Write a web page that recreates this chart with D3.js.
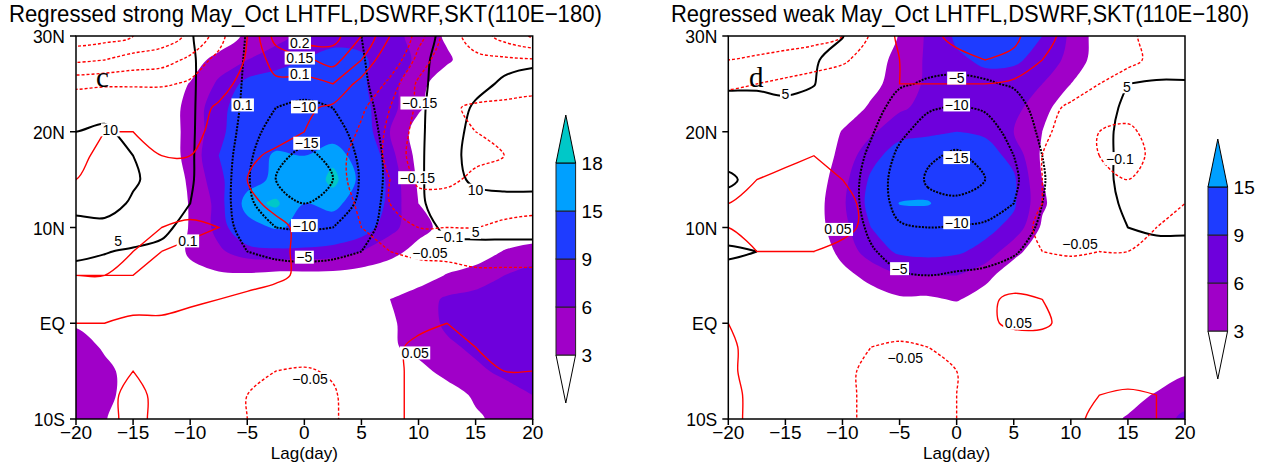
<!DOCTYPE html>
<html>
<head>
<meta charset="utf-8">
<script src="https://cdn.jsdelivr.net/npm/d3@7"></script>
<style>
  body { margin: 0; background: #fff; }
</style>
</head>
<body>
<div id="chart"></div>
<script>
// grid axes of the regressed fields
const lags = [-20, -17.5, -15, -12.5, -10, -7.5, -5, -2.5, 0, 2.5, 5, 7.5, 10, 12.5, 15, 17.5, 20];
const lats = [30, 27.5, 25, 22.5, 20, 17.5, 15, 12.5, 10, 7.5, 5, 2.5, 0, -2.5, -5, -7.5, -10];

const lagTicks = [-20, -15, -10, -5, 0, 5, 10, 15, 20];
const latTicks = [30, 20, 10, 0, -10];
const latTickLabels = ["30N", "20N", "10N", "EQ", "10S"];

const strongLevels = [3, 6, 9, 15, 18];
const weakLevels = [3, 6, 9, 15];
const shadeColors = ["#a000c8", "#6e00dc", "#1e3cff", "#00a0ff", "#00c8c8"];
const blackLevels = [-20, -15, -10, -5, 5, 10, 15];
const redLevels = [-0.25, -0.2, -0.15, -0.1, -0.05, 0.05, 0.1, 0.15, 0.2, 0.25];

// LHTFL (shaded), rows from 30N down to 10S, columns lag -20..20
const strongShade = [
  [0,0,0,0,0,0,3.9,5,7,8,8,7,5,2.5,0,0,0],
  [0,0,0,0,1,4.5,6,7.5,9,10,9.5,7.5,5.5,3.5,1,0,0],
  [0,0,0,0.5,3.2,6.5,10,11,11,11,9.5,7,4,1,0,0,0],
  [0,0,0,1,4,8,11,12,13,12,10,7,3.5,0.5,0,0,0],
  [0,0,0,1,4,8,12,13,14,13,11,6,1.5,0,0,0,0],
  [0,0,0,1,4,9,13,15.5,15,17,13,7,2,0,0,0,0],
  [0,0,0,0.5,3.5,8,13,16,15,19,14,8,2.5,0,0,0,0],
  [0,0,0,0.5,3.2,7,17,18.5,15,16,13,8,3,0.5,0,0,0],
  [0,0,0,0.5,3.2,7,13,15.5,14,13,11,7,4,2,0.5,0,0],
  [0,0,0,0.5,3.5,5.5,7.5,8,8,7.5,6,4,2,0.5,1,3.2,4.5],
  [0,0,0,0,2,2.5,2.5,2,2,2,1.5,1,1.5,3.2,4.5,6,7],
  [0,0,0,0,0,0.5,0.5,0.5,0.5,0.5,1,3,4.5,6.5,7,7.5,7.5],
  [2.5,1,0,0,0,0,0,0,0,0,0,2.5,4.5,6.5,7.5,7.5,7.5],
  [5,2.5,0.5,0,0,0,0,0,0,0,0,2.5,4,5.5,6.5,7,8],
  [5.5,4,1.5,0,0,0,0,0,0,0,0,0,2,4,5.5,6.5,7],
  [5,4,1.5,0,0,0,0,0,0,0,0,0,0,1.5,3.5,5,6],
  [4.5,3.2,1,0,0,0,0,0,0,0,0,0,0,0,2.5,4,5]
];

const weakShade = [
  [0,0,0,0,0,0,3.2,6.5,9.5,11,11,9,5.5,1.5,0,0,0],
  [0,0,0,0,0,1.5,4,6.5,8.5,9.5,9.5,8,5,1.5,0,0,0],
  [0,0,0,0,0,2,4.5,6.5,7.5,8,7.5,6,3,0.5,0,0,0],
  [0,0,0,0,1,3.5,5.5,7,7.5,7.5,7,4,1,0,0,0,0],
  [0,0,0,0,3.2,5.5,8,8.5,9,8.5,6,3,0.5,0,0,0,0],
  [0,0,0,0.5,4,8,10.5,11,11,10.5,8,2.5,0.5,0,0,0,0],
  [0,0,0,1,5,9.5,12,13,12,11,9.5,3,0.5,0,0,0,0],
  [0,0,0,1.5,5.5,10,15.2,15.3,12.5,11,9.5,3.5,0.5,0,0,0,0],
  [0,0,0,1.5,5,9,11,11.5,11,10,8,2.5,0,0,0,0,0],
  [0,0,0,0.5,4,7.5,9.5,10,9.5,8,4,1,0,0,0,0,0],
  [0,0,0,0,2,4,6,6,6,4,1,0,0,0,0,0,0],
  [0,0,0,0,0,1.5,2.5,2.5,3.3,1.5,0,0,0,0,0,0,0],
  [0,0,0,0,0,0,0,0,0,0,0,0,0,0,0,0,0],
  [0,0,0,0,0,0,0,0,0,0,0,0,0,0,0,0,0],
  [0,0,0,0,0,0,0,0,0,0,0,0,0,0,0,0,2.5],
  [0,0,0,0,0,0,0,0,0,0,0,0,0,0,1,3.5,5],
  [0,0,0,0,0,0,0,0,0,0,0,0,0,1,3.5,5,6.5]
];

// DSWRF (black contours)
const strongBlack = [
  [7,7,7,6.5,5.5,1,-5.5,-7,-7,-6.5,-5,-1,3.5,6,7,8,9],
  [7.5,7.5,7.5,7,6,1,-6,-8,-8,-7.5,-5.5,-1.5,4,6.5,8,9,9.5],
  [8,8,8,7.5,6,1,-6.5,-9,-9,-8.5,-6,-2,4,7,9,10.5,11],
  [9,9,8.5,8,6,0.5,-7,-10,-10.5,-10,-7,-2.5,4,8,10.5,11.5,12],
  [10,10.5,9,8,6,0,-8,-12,-13,-12,-8,-3,4,8.5,11,12,12],
  [11,11.5,10,8.5,6,-1,-9,-14,-16,-14,-9,-3.5,4,9,11,12,12],
  [12,12.5,10.5,8.5,6,-1.5,-9.5,-15,-18,-15,-9.5,-3.5,4,9,10.5,11,11],
  [11,11.5,9.5,7.5,5,-2,-9,-13,-15,-13,-9,-3,4,8,9,9,9],
  [9,9,7.5,6,3.5,-2,-7.5,-10,-10.5,-10,-7.5,-2.5,3,6,6,6,6],
  [6,5.2,4.5,4,2,-1.5,-5,-6,-6.5,-6,-5,-1.5,2,3.5,4,4,4],
  [3.5,3.5,3,2.5,1.5,-0.5,-2,-3,-3,-3,-2,-0.5,1,2,2,2,2],
  [2,2,2,1.5,1,0,-1,-1,-1,-1,-1,0,0.5,1,1,1,1],
  [0,0,0,0,0,0,0,0,0,0,0,0,0,0,0,0,0],
  [0,0,0,0,0,0,0,0,0,0,0,0,0,0,0,0,0],
  [0,0,0,0,0,0,0,0,0,0,0,0,0,0,0,0,0],
  [0,0,0,0,0,0,0,0,0,0,0,0,0,0,0,0,0],
  [0,0,0,0,0,0,0,0,0,0,0,0,0,0,0,0,0]
];

const weakBlack = [
  [6,6,5.5,6,5.2,0,-2,-3,-3,-3,-2,0,1,2,3,3,3],
  [6,6,5.5,5.5,3,-0.5,-3,-3.5,-3.5,-3,-2.5,-1,0.5,2,3.5,3.5,3.5],
  [5.4,5.4,5.5,5.2,1,-2,-4.5,-5.5,-6,-5.5,-4.5,-2,0,2.5,5,5.3,5.3],
  [4,4,4.5,3,0,-3,-7,-9.5,-10.5,-9.5,-7,-3,0,3,6,7,7],
  [3,2.5,2,1,-1,-4.5,-9,-12,-13.5,-12,-8.5,-4,0,3.5,6.5,7.5,7.5],
  [4,3,2,0.5,-1.5,-6,-11,-14.5,-15.5,-14,-10,-5,-0.5,3.5,6.5,7.5,7.5],
  [5.5,4,2,0,-2,-7,-12,-15.5,-16,-15,-11,-5.5,-1,3.5,6.5,7.5,7.5],
  [4,3,1.5,0,-2,-7,-11.5,-14,-14.5,-13,-10,-5,-1,3,6,7,7],
  [3.5,4,3,1,-1.5,-6,-9.5,-10,-9.5,-9,-8,-4,-0.5,2.5,5,5.5,5.5],
  [5.5,5,3.5,1,-1,-4.5,-7,-8,-7.5,-7,-5.5,-3,0,2,3.5,4,4],
  [4,3.5,2.5,1,-0.5,-2.5,-4.5,-5,-4.5,-4,-3,-1.5,0,1,2,2,2],
  [2,2,1.5,0.5,0,-1,-2,-2,-2,-1.5,-1,-0.5,0,0.5,1,1,1],
  [0,0,0,0,0,0,0,0,0,0,0,0,0,0,0,0,0],
  [0,0,0,0,0,0,0,0,0,0,0,0,0,0,0,0,0],
  [0,0,0,0,0,0,0,0,0,0,0,0,0,0,0,0,0],
  [0,0,0,0,0,0,0,0,0,0,0,0,0,0,0,0,0],
  [0,0,0,0,0,0,0,0,0,0,0,0,0,0,0,0,0]
];

// SKT (red contours)
const strongRed = [
  [-.23,-.22,-.2,-.18,-.14,-.08,.05,.17,.23,.22,.15,.05,-.08,-.17,-.13,-.08,-.045],
  [-.16,-.15,-.13,-.12,-.09,-.03,.06,.12,.14,.17,.1,0,-.12,-.19,-.16,-.16,-.155],
  [-.065,-.06,-.06,-.06,-.04,.02,.08,.09,.08,.1,.03,-.07,-.16,-.2,-.19,-.18,-.17],
  [0,.02,.02,.02,.02,.06,.1,.08,.06,.04,-.04,-.1,-.16,-.16,-.14,-.135,-.13],
  [.03,.05,.05,.04,.04,.06,.08,.07,.05,0,-.06,-.11,-.17,-.17,-.15,-.14,-.13],
  [.04,.06,.06,.05,.05,.06,.06,.04,.02,-.03,-.07,-.11,-.18,-.18,-.16,-.15,-.14],
  [.05,.06,.06,.06,.06,.06,.05,.03,.01,-.04,-.06,-.1,-.16,-.16,-.14,-.13,-.12],
  [.06,.07,.07,.07,.08,.07,.06,.04,.02,-.02,-.06,-.1,-.13,-.13,-.12,-.11,-.11],
  [.07,.08,.09,.1,.11,.1,.08,.06,.04,0,-.05,-.08,-.1,-.1,-.1,-.095,-.09],
  [.08,.09,.1,.1,.09,.08,.07,.06,.04,.02,-.02,-.05,-.06,-.065,-.07,-.07,-.07],
  [.1,.1,.1,.095,.08,.07,.07,.06,.04,.03,0,-.02,-.03,-.03,-.04,-.04,-.04],
  [.07,.07,.07,.07,.06,.05,.04,.03,.02,.02,.01,0,.01,.02,.02,.02,.02],
  [.05,.05,.04,.04,.03,.02,.02,.01,.01,.01,.01,.02,.04,.05,.04,.03,.03],
  [.03,.04,.04,.03,.02,.01,0,0,0,.01,.02,.04,.06,.06,.05,.04,.04],
  [.02,.04,.05,.03,.01,0,-.03,-.05,-.06,-.04,.01,.04,.06,.06,.05,.05,.05],
  [.02,.04,.06,.04,.01,-.01,-.05,-.07,-.07,-.06,0,.04,.06,.06,.06,.06,.06],
  [.02,.04,.06,.04,.01,-.01,-.05,-.07,-.07,-.06,-.01,.04,.06,.06,.06,.06,.07]
];

const weakRed = [
  [-.14,-.14,-.13,-.12,-.1,-.045,.07,.09,.11,.12,.11,.07,.03,0,-.04,-.07,-.1],
  [-.1,-.09,-.08,-.07,-.06,-.02,.05,.08,.09,.1,.09,.05,.02,-.01,-.04,-.06,-.07],
  [-.06,-.05,-.04,-.03,-.01,.02,.05,.05,.05,.05,.04,.02,-.02,-.05,-.07,-.07,-.06],
  [-.02,-.01,.01,.02,.03,.03,.03,.02,.02,.02,0,-.03,-.06,-.08,-.09,-.08,-.05],
  [.01,.02,.03,.04,.04,.03,.02,.02,.01,.01,-.01,-.04,-.07,-.1,-.105,-.09,-.06],
  [.03,.03,.04,.05,.04,.03,.02,.01,.01,0,-.02,-.05,-.08,-.1,-.115,-.09,-.06],
  [.04,.05,.06,.06,.05,.03,.02,.01,0,0,-.02,-.05,-.07,-.09,-.1,-.08,-.06],
  [.05,.06,.07,.07,.06,.04,.02,.01,0,-.01,-.03,-.05,-.06,-.07,-.07,-.06,-.05],
  [.05,.06,.07,.07,.06,.04,.02,.01,0,-.02,-.04,-.055,-.06,-.06,-.06,-.05,-.04],
  [.04,.05,.05,.05,.04,.03,.01,0,-.01,-.02,-.04,-.05,-.055,-.05,-.05,-.04,-.03],
  [.03,.03,.03,.03,.02,.01,0,0,0,.01,.02,-.01,-.03,-.03,-.03,-.03,-.02],
  [.04,.03,.02,.01,.01,0,0,.01,.02,.04,.06,.05,.02,-.01,-.02,-.02,-.01],
  [.05,.03,.01,0,0,-.01,-.02,-.01,.01,.04,.06,.06,.03,0,-.01,-.01,0],
  [.06,.03,.01,-.01,-.03,-.05,-.06,-.05,-.03,0,.02,.02,.01,0,0,0,0],
  [.06,.03,0,-.02,-.04,-.06,-.07,-.07,-.05,-.02,0,0,0,.01,.02,.03,.03],
  [.06,.04,0,-.02,-.04,-.06,-.07,-.07,-.05,-.02,0,.01,.03,.05,.06,.05,.04],
  [.06,.04,0,-.02,-.04,-.06,-.07,-.07,-.05,-.02,0,.02,.04,.06,.06,.05,.04]
];

// contour labels: [lag, lat, text]
const strongLabels = [
  [-0.4, 29.3, "0.2"], [-0.4, 27.7, "0.15"], [-0.4, 26.0, "0.1"], [-5.4, 22.8, "0.1"],
  [0, 22.6, "\u221210"], [0.2, 18.8, "\u221215"], [0, 10.2, "\u221210"], [0, 6.9, "\u22125"],
  [10.1, 23, "\u22120.15"], [9.9, 15.2, "\u22120.15"], [-17, 20.2, "10"], [-16.3, 8.6, "5"],
  [-10.2, 8.6, "0.1"], [15, 13.9, "10"], [15, 9.5, "5"], [12.7, 9, "\u22120.1"],
  [11, 7.3, "\u22120.05"], [9.7, -3.1, "0.05"], [0.5, -5.8, "\u22120.05"]
];
const weakLabels = [
  [0, 25.6, "\u22125"], [0, 22.8, "\u221210"], [0, 17.3, "\u221215"], [0, 10.5, "\u221210"],
  [-5, 5.7, "\u22125"], [-15, 23.9, "5"], [14.9, 24.7, "5"], [14.3, 17.2, "\u22120.1"],
  [-10.4, 9.8, "0.05"], [10.8, 8.3, "\u22120.05"], [5.4, 0, "0.05"], [-4.5, -3.6, "\u22120.05"]
];

const width = 1261;
const height = 463;
const font = '"Liberation Sans", Arial, sans-serif';

const svg = d3.select('#chart')
  .append('svg')
  .attr('width', width)
  .attr('height', height)
  .style('font-family', font);

svg.append('rect')
  .attr('width', width)
  .attr('height', height)
  .attr('fill', '#fff');

function padGrid(grid) {
  const rows = grid.map(r => [r[0]].concat(r, [r[r.length - 1]]));
  return [rows[0]].concat(rows, [rows[rows.length - 1]]);
}

function drawPanel(p) {
  const x = d3.scaleLinear().domain([-20, 20]).range([p.left, p.right]);
  const y = d3.scaleLinear().domain([-10, 30]).range([p.bottom, p.top]);

  const nx = lags.length + 2, ny = lats.length + 2;
  const gx = d3.scaleLinear().domain([1.5, nx - 1.5]).range([x(lags[0]), x(lags[lags.length - 1])]);
  const gy = d3.scaleLinear().domain([1.5, ny - 1.5]).range([y(lats[0]), y(lats[lats.length - 1])]);

  const ring = d3.line()
    .x(d => gx(d[0]))
    .y(d => gy(d[1]))
    .curve(d3.curveCatmullRomClosed.alpha(0.5));
  const pathOf = mp => mp.coordinates
    .map(poly => poly.map(r => ring(r.slice(0, -1))).join(''))
    .join('');
  const contours = (grid, levels) => d3.contours()
    .size([nx, ny])
    .thresholds(levels)(padGrid(grid).flat());

  svg.append('clipPath').attr('id', 'clip' + p.id)
    .append('rect')
    .attr('x', p.left).attr('y', p.top)
    .attr('width', p.right - p.left).attr('height', p.bottom - p.top);

  const plot = svg.append('g').attr('clip-path', `url(#clip${p.id})`);

  // shading
  plot.selectAll('path.shade')
    .data(contours(p.shade, p.levels))
    .enter().append('path')
    .attr('class', 'shade')
    .attr('d', pathOf)
    .attr('fill', (d, i) => shadeColors[i])
    .attr('stroke', 'none');

  // black contours
  plot.selectAll('path.black')
    .data(contours(p.black, blackLevels))
    .enter().append('path')
    .attr('class', 'black')
    .attr('d', pathOf)
    .attr('fill', 'none')
    .attr('stroke', '#000')
    .attr('stroke-width', 2)
    .attr('stroke-dasharray', d => d.value < 0 ? '2,1.3' : null);

  // red contours
  plot.selectAll('path.red')
    .data(contours(p.red, redLevels))
    .enter().append('path')
    .attr('class', 'red')
    .attr('d', pathOf)
    .attr('fill', 'none')
    .attr('stroke', '#ff0000')
    .attr('stroke-width', 1.4)
    .attr('stroke-dasharray', d => d.value < 0 ? '3,2' : null);

  // contour labels
  const lab = svg.append('g').selectAll('g')
    .data(p.labels)
    .enter().append('g')
    .attr('transform', d => `translate(${x(d[0])},${y(d[1])})`);
  lab.append('rect').attr('fill', '#fff');
  lab.append('text')
    .text(d => d[2])
    .attr('text-anchor', 'middle')
    .attr('dy', '0.36em')
    .style('font-size', '14px')
    .attr('fill', '#000');
  lab.each(function() {
    const g = d3.select(this);
    const w = g.select('text').node().getComputedTextLength();
    g.select('rect').attr('x', -w / 2 - 1.5).attr('y', -6.5).attr('width', w + 3).attr('height', 13);
  });

  // frame and axes
  svg.append('rect')
    .attr('x', p.left).attr('y', p.top)
    .attr('width', p.right - p.left).attr('height', p.bottom - p.top)
    .attr('fill', 'none').attr('stroke', '#000').attr('stroke-width', 1.5);

  svg.append('g').selectAll('line')
    .data(lagTicks).enter().append('line')
    .attr('x1', d => x(d)).attr('x2', d => x(d))
    .attr('y1', p.bottom).attr('y2', p.bottom + 6)
    .attr('stroke', '#000').attr('stroke-width', 1.5);
  svg.append('g').selectAll('text')
    .data(lagTicks).enter().append('text')
    .text(d => d < 0 ? '\u2212' + (-d) : d)
    .attr('x', d => x(d)).attr('y', p.bottom + 20)
    .attr('text-anchor', 'middle')
    .style('font-size', '19px');

  svg.append('g').selectAll('line')
    .data(latTicks).enter().append('line')
    .attr('x1', p.left - 6).attr('x2', p.left)
    .attr('y1', d => y(d)).attr('y2', d => y(d))
    .attr('stroke', '#000').attr('stroke-width', 1.5);
  svg.append('g').selectAll('text')
    .data(latTicks).enter().append('text')
    .text((d, i) => latTickLabels[i])
    .attr('x', p.left - 11).attr('y', d => y(d))
    .attr('dy', '0.4em')
    .attr('text-anchor', 'end')
    .style('font-size', '17.5px');

  svg.append('text')
    .text('Lag(day)')
    .attr('x', (p.left + p.right) / 2).attr('y', p.bottom + 40)
    .attr('text-anchor', 'middle')
    .style('font-size', '17px');

  svg.append('text')
    .text(p.title)
    .attr('transform', `translate(${p.titleX},22) scale(1,1.2)`)
    .attr('textLength', p.titleLen)
    .attr('lengthAdjust', 'spacingAndGlyphs')
    .style('font-size', '20px');

  svg.append('text')
    .text(p.letter)
    .attr('x', p.letterX).attr('y', 87)
    .style('font-family', '"Liberation Serif", "Times New Roman", serif')
    .style('font-size', '29px');

  // colorbar
  const n = p.levels.length;
  const cb = d3.scaleLinear().domain([0, n - 1]).range([p.cbBottom, p.cbBottom - 48 * (n - 1)]);
  const cx0 = p.cbX, cx1 = p.cbX + 19.6, cxm = p.cbX + 9.8;
  const bar = svg.append('g');
  bar.append('path')
    .attr('d', `M${cx0},${cb(0)}L${cxm},${cb(0) + 48}L${cx1},${cb(0)}Z`)
    .attr('fill', '#fff').attr('stroke', '#000').attr('stroke-width', 1);
  bar.selectAll('rect')
    .data(p.levels.slice(0, -1)).enter().append('rect')
    .attr('x', cx0).attr('width', cx1 - cx0)
    .attr('y', (d, i) => cb(i + 1)).attr('height', (d, i) => cb(i) - cb(i + 1))
    .attr('fill', (d, i) => shadeColors[i])
    .attr('stroke', '#222').attr('stroke-width', 1);
  bar.append('path')
    .attr('d', `M${cx0},${cb(n - 1)}L${cxm},${cb(n - 1) - 48}L${cx1},${cb(n - 1)}Z`)
    .attr('fill', shadeColors[n - 1]).attr('stroke', '#000').attr('stroke-width', 1);
  bar.selectAll('text')
    .data(p.levels).enter().append('text')
    .text(d => d)
    .attr('x', cx1 + 6).attr('y', (d, i) => cb(i))
    .attr('dy', '0.36em')
    .style('font-size', '19px');
}

drawPanel({
  id: 'S', left: 76, right: 532.7, top: 36, bottom: 419,
  title: 'Regressed strong May_Oct LHTFL,DSWRF,SKT(110E\u2212180)', titleX: 9, titleLen: 593,
  letter: 'c', letterX: 96,
  shade: strongShade, black: strongBlack, red: strongRed,
  levels: strongLevels, labels: strongLabels,
  cbX: 556, cbBottom: 355
});

drawPanel({
  id: 'W', left: 728.3, right: 1185, top: 36, bottom: 419,
  title: 'Regressed weak May_Oct LHTFL,DSWRF,SKT(110E\u2212180)', titleX: 671, titleLen: 578,
  letter: 'd', letterX: 749,
  shade: weakShade, black: weakBlack, red: weakRed,
  levels: weakLevels, labels: weakLabels,
  cbX: 1208, cbBottom: 331
});
</script>
</body>
</html>
